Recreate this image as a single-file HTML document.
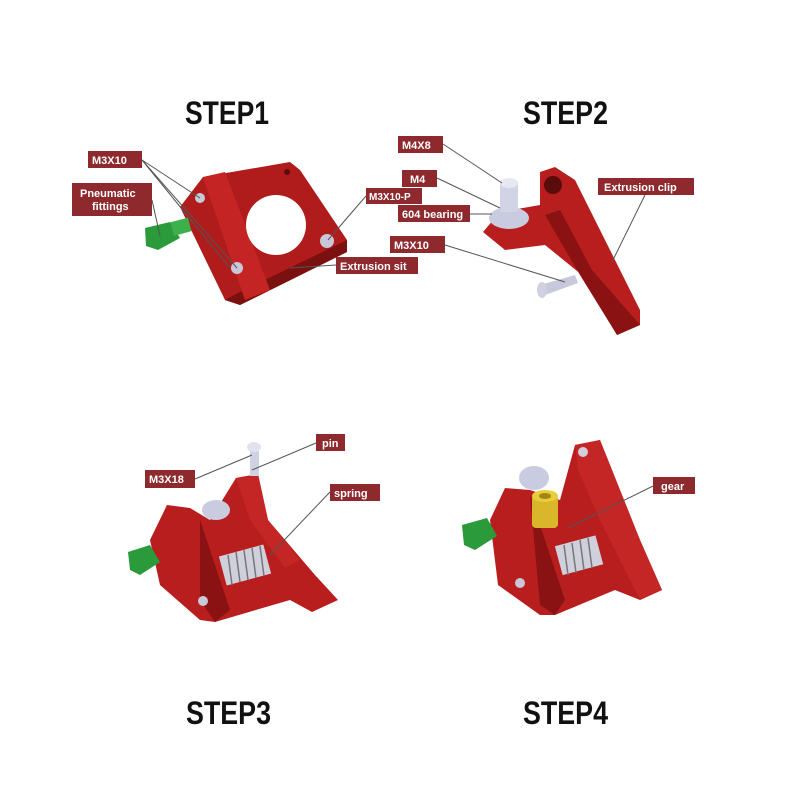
<!DOCTYPE html>
<html><head><style>
html,body{margin:0;padding:0;background:#fff;}
svg{display:block}
.t{font-family:"Liberation Sans",sans-serif;font-weight:bold;font-size:11px;fill:#fff}
.h{font-family:"Liberation Sans",sans-serif;font-weight:bold;font-size:32px;fill:#111;transform-box:fill-box}
.lb{fill:#8e2a2e}
.ln{stroke:#555;stroke-width:1;fill:none}
</style></head><body>
<svg width="800" height="800" viewBox="0 0 800 800">
<rect width="800" height="800" fill="#fff"/>
<text class="h" x="185" y="124" textLength="84" lengthAdjust="spacingAndGlyphs">STEP1</text>
<text class="h" x="523" y="124" textLength="85" lengthAdjust="spacingAndGlyphs">STEP2</text>
<text class="h" x="186" y="724" textLength="85" lengthAdjust="spacingAndGlyphs">STEP3</text>
<text class="h" x="523" y="724" textLength="85" lengthAdjust="spacingAndGlyphs">STEP4</text>

<!-- STEP1 -->
<polygon points="180,207 203,177 290,162 300,170 347,240 347,252 240,305 225,300" fill="#b01c1c"/>
<polygon points="225,300 240,305 347,252 347,240 240,292" fill="#7a1010"/>
<polygon points="203,177 225,172 270,290 245,300" fill="#c42424"/>
<circle cx="276" cy="225" r="30" fill="#fff"/>
<circle cx="287" cy="172" r="3" fill="#5a0b0b"/>
<circle cx="327" cy="241" r="7" fill="#c8c8d8"/>
<circle cx="237" cy="268" r="6" fill="#c8c8d8"/>
<circle cx="200" cy="198" r="5" fill="#c8c8d8"/>
<polygon points="145,228 170,222 180,238 158,250 146,246" fill="#2a9a3a"/>
<rect x="172" y="220" width="18" height="14" fill="#3cb04a" transform="rotate(-15 180 227)"/>
<line class="ln" x1="142" y1="160" x2="200" y2="198"/><line class="ln" x1="142" y1="160" x2="230" y2="268"/><line class="ln" x1="142" y1="160" x2="237" y2="268"/>
<line class="ln" x1="152" y1="200" x2="160" y2="236"/>
<line class="ln" x1="366" y1="196" x2="328" y2="240"/>
<line class="ln" x1="336" y1="265" x2="290" y2="268"/>
<rect class="lb" x="88" y="151" width="54" height="17"/><text class="t" x="92" y="164">M3X10</text>
<rect class="lb" x="72" y="183" width="80" height="33"/><text class="t" x="80" y="197">Pneumatic</text><text class="t" x="92" y="210">fittings</text>
<rect class="lb" x="366" y="188" width="56" height="16"/><text class="t" x="369" y="200" style="font-size:10px">M3X10-P</text>
<rect class="lb" x="336" y="257" width="82" height="17"/><text class="t" x="340" y="270">Extrusion sit</text>

<!-- STEP2 -->
<polygon points="483,232 500,212 540,205 540,172 555,167 575,180 640,310 640,325 617,335 582,275 545,245 505,250" fill="#b81e1e"/>
<polygon points="545,215 580,275 617,335 640,325 592,270 560,210" fill="#8a1212"/>
<circle cx="553" cy="185" r="9" fill="#5a0b0b"/>
<ellipse cx="509" cy="218" rx="20" ry="11" fill="#c9cbe0"/>
<rect x="500" y="182" width="18" height="30" fill="#d2d4e6"/>
<ellipse cx="509" cy="183" rx="9" ry="5" fill="#e6e8f4"/>
<polygon points="540,285 575,275 578,283 545,295" fill="#c8c8dc"/>
<ellipse cx="542" cy="290" rx="5" ry="8" fill="#cfd0e0"/>
<line class="ln" x1="443" y1="144" x2="502" y2="183"/>
<line class="ln" x1="437" y1="178" x2="500" y2="208"/>
<line class="ln" x1="470" y1="214" x2="492" y2="214"/>
<line class="ln" x1="445" y1="245" x2="565" y2="282"/>
<line class="ln" x1="645" y1="195" x2="612" y2="262"/>
<rect class="lb" x="398" y="136" width="45" height="17"/><text class="t" x="402" y="149">M4X8</text>
<rect class="lb" x="402" y="170" width="35" height="17"/><text class="t" x="410" y="183">M4</text>
<rect class="lb" x="398" y="205" width="72" height="17"/><text class="t" x="402" y="218">604 bearing</text>
<rect class="lb" x="390" y="236" width="55" height="17"/><text class="t" x="394" y="249">M3X10</text>
<rect class="lb" x="598" y="178" width="96" height="17"/><text class="t" x="604" y="191">Extrusion clip</text>

<!-- STEP3 -->
<polygon points="150,540 167,505 190,508 210,520 236,478 258,474 268,520 315,575 338,600 312,612 290,600 215,622 200,620 160,585" fill="#b81e1e"/>
<polygon points="200,520 230,610 215,622 200,600" fill="#8a1212"/>
<polygon points="236,478 258,474 268,520 300,560 285,568 250,520" fill="#c42525"/>
<rect x="222" y="550" width="46" height="30" fill="#d0d0dc" transform="rotate(-15 245 565)"/>
<g stroke="#777" stroke-width="1.5"><line x1="228" y1="555" x2="232" y2="585"/><line x1="236" y1="552" x2="240" y2="582"/><line x1="244" y1="550" x2="248" y2="580"/><line x1="252" y1="548" x2="256" y2="578"/><line x1="260" y1="546" x2="264" y2="576"/></g>
<ellipse cx="216" cy="510" rx="14" ry="10" fill="#c9cbe0"/>
<rect x="250" y="446" width="9" height="30" fill="#d0d2e4"/>
<ellipse cx="254" cy="447" rx="7" ry="5" fill="#e0e2f0"/>
<circle cx="203" cy="601" r="5" fill="#c8c8d8"/>
<polygon points="128,552 150,545 160,562 140,575 130,570" fill="#2a9a3a"/>
<line class="ln" x1="195" y1="479" x2="252" y2="455"/>
<line class="ln" x1="316" y1="443" x2="252" y2="470"/>
<line class="ln" x1="330" y1="492" x2="270" y2="555"/>
<rect class="lb" x="145" y="470" width="50" height="18"/><text class="t" x="149" y="483">M3X18</text>
<rect class="lb" x="316" y="434" width="29" height="17"/><text class="t" x="322" y="447">pin</text>
<rect class="lb" x="330" y="484" width="50" height="17"/><text class="t" x="334" y="497">spring</text>

<!-- STEP4 -->
<polygon points="490,520 505,488 530,490 560,500 575,445 600,440 610,465 640,540 662,590 640,600 615,590 555,615 540,615 498,585" fill="#b81e1e"/>
<polygon points="575,445 600,440 610,465 640,540 662,590 640,600 600,520 578,470" fill="#c42525"/>
<polygon points="530,495 565,600 555,615 540,605" fill="#8a1212"/>
<circle cx="583" cy="452" r="5" fill="#d0d0dc"/>
<ellipse cx="534" cy="478" rx="15" ry="12" fill="#c9cbe0"/>
<rect x="558" y="540" width="42" height="30" fill="#d0d0dc" transform="rotate(-15 580 555)"/>
<g stroke="#777" stroke-width="1.5"><line x1="564" y1="545" x2="568" y2="575"/><line x1="572" y1="543" x2="576" y2="573"/><line x1="580" y1="540" x2="584" y2="570"/><line x1="588" y1="538" x2="592" y2="568"/></g>
<rect x="532" y="495" width="26" height="33" rx="4" fill="#d9b62a"/>
<ellipse cx="545" cy="496" rx="13" ry="6" fill="#e8cc3a"/>
<ellipse cx="545" cy="496" rx="6" ry="3" fill="#a58516"/>
<circle cx="520" cy="583" r="5" fill="#c8c8d8"/>
<polygon points="462,525 487,518 497,536 475,550 464,545" fill="#2a9a3a"/>
<line class="ln" x1="653" y1="486" x2="568" y2="528"/>
<rect class="lb" x="653" y="477" width="42" height="17"/><text class="t" x="661" y="490">gear</text>
</svg>
</body></html>
